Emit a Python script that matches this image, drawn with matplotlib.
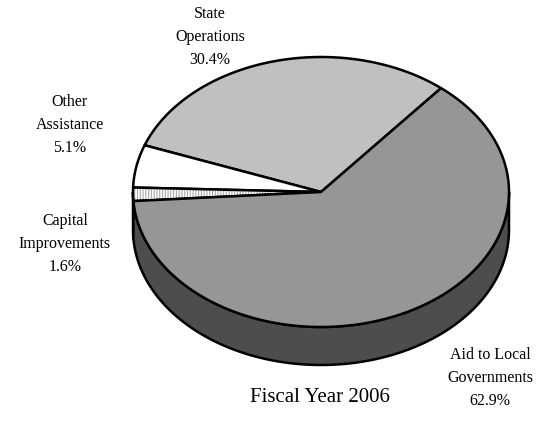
import numpy as np
import matplotlib
matplotlib.use("Agg")
import matplotlib.pyplot as plt
from matplotlib.patches import Polygon

labels = ["State\nOperations", "Other\nAssistance", "Capital\nImprovements", "Aid to Local\nGovernments"]
shares = [30.4, 5.1, 1.6, 62.9]
top_colors = ["#c0c0c0", "#ffffff", "#ffffff", "#969696"]
side_colors = ["#808080", "#b0b0b0", "#b0b0b0", "#4d4d4d"]
hatches = [None, None, "||||||", None]
title = "Fiscal Year 2006"

# pie geometry in pixel coords
cx, cy = 321, 193
rx, ry = 188, 135
depth = 38
start = 50.3
LW = 1.8

plt.rcParams['font.family'] = ['Liberation Serif', 'DejaVu Serif']
plt.rcParams['hatch.linewidth'] = 0.8
fig = plt.figure(figsize=(5.42, 4.31), dpi=100)
ax = fig.add_axes([0, 0, 1, 1])
ax.set_xlim(0, 542)
ax.set_ylim(431, 0)
ax.axis("off")


def pt(a):
    r = np.radians(a)
    return cx + rx * np.cos(r), cy - ry * np.sin(r)


bounds = []
a = start
for s in shares:
    b = a + s * 3.6
    bounds.append((a, b))
    a = b

# sides (front half only: 180..360 deg)
for (a1, a2), sc in zip(bounds, side_colors):
    for off in (0, 360):
        lo = max(a1, 180 + off)
        hi = min(a2, 360 + off)
        if hi <= lo:
            continue
        ang = np.linspace(lo, hi, 100)
        top = [pt(t) for t in ang]
        bot = [(x, y + depth) for x, y in top[::-1]]
        ax.add_patch(Polygon(top + bot, closed=True, facecolor=sc,
                             edgecolor="black", lw=LW, joinstyle="round"))

# tops
for (a1, a2), tc, h in zip(bounds, top_colors, hatches):
    ang = np.linspace(a1, a2, 200)
    verts = [(cx, cy)] + [pt(t) for t in ang]
    if h:
        ax.add_patch(Polygon(verts, closed=True, facecolor=tc, edgecolor="#a8a8a8",
                             hatch=h, lw=0))
        ax.add_patch(Polygon(verts, closed=True, facecolor="none", edgecolor="black",
                             lw=LW, joinstyle="round"))
    else:
        ax.add_patch(Polygon(verts, closed=True, facecolor=tc, edgecolor="black",
                             lw=LW, joinstyle="round"))

label_pos = [(210, 37), (70, 125), (65, 244), (490, 378)]
for (x, y), lab, s in zip(label_pos, labels, shares):
    ax.text(x, y, f"{lab}\n{s:.1f}%", ha="center", va="center", fontsize=11.5,
            linespacing=1.55)

ax.text(320, 398, title, ha="center", va="center", fontsize=15)

fig.savefig("out.png", dpi=100)
